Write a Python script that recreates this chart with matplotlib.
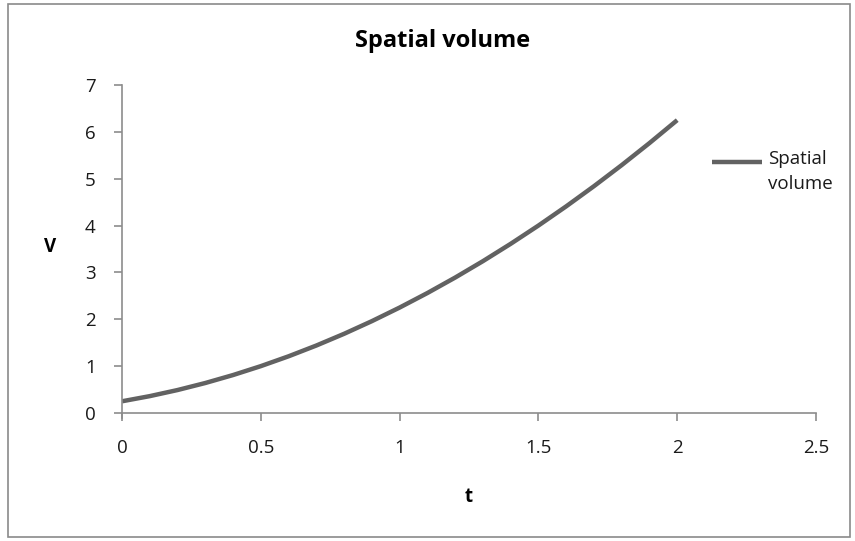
import matplotlib.pyplot as plt
from matplotlib.patches import Rectangle

# time and spatial volume samples
t = [0.0, 0.1, 0.2, 0.3, 0.4, 0.5, 0.6, 0.7, 0.8, 0.9, 1.0,
     1.1, 1.2, 1.3, 1.4, 1.5, 1.6, 1.7, 1.8, 1.9, 2.0]
volume = [0.25, 0.36, 0.49, 0.64, 0.81, 1.00, 1.21, 1.44, 1.69, 1.96, 2.25,
          2.56, 2.89, 3.24, 3.61, 4.00, 4.41, 4.84, 5.29, 5.76, 6.25]

xticks = [0, 0.5, 1, 1.5, 2, 2.5]
yticks = [0, 1, 2, 3, 4, 5, 6, 7]

plt.rcParams['font.family'] = ['Open Sans', 'DejaVu Sans']
axis_gray = '#8c8c8c'
line_gray = '#626262'

fig = plt.figure(figsize=(8.55, 5.41), dpi=100)
ax = fig.add_axes([0.1427, 0.2366, 0.8117, 0.6063])

ax.plot(t, volume, color=line_gray, linewidth=3.2, solid_capstyle='butt')

ax.set_xlim(0, 2.5)
ax.set_ylim(0, 7)
ax.set_xticks(xticks)
ax.set_xticklabels([f'{v:g}' for v in xticks])
ax.set_yticks(yticks)

for side in ['top', 'right']:
    ax.spines[side].set_visible(False)
for side in ['left', 'bottom']:
    ax.spines[side].set_color(axis_gray)
    ax.spines[side].set_linewidth(1.2)
ax.spines['left'].set_bounds(-0.1, 7)
ax.tick_params(axis='both', colors=axis_gray, labelcolor='#1a1a1a',
               labelsize=13.5, length=6, width=1.2)
ax.tick_params(axis='x', pad=13)
ax.tick_params(axis='y', pad=13)

fig.text(0.518, 0.925, 'Spatial volume', fontsize=17, fontweight='bold',
         ha='center', va='center')
ax.set_xlabel('t', fontsize=13.5, fontweight='bold', labelpad=21)
ax.set_ylabel('V', fontsize=13.5, fontweight='bold', rotation=0, va='center')
ax.yaxis.set_label_coords(-0.103, 0.505)

# legend, with the swatch level with the first text line
ax.plot([0.850, 0.922], [0.765, 0.765], transform=ax.transAxes, color=line_gray,
        linewidth=3.2, solid_capstyle='butt', clip_on=False)
ax.text(0.931, 0.802, 'Spatial\nvolume', transform=ax.transAxes, fontsize=13.5,
        color='#1a1a1a', ha='left', va='top', linespacing=1.5)

# outer chart border
fig.patches.append(Rectangle((0.009, 0.007), 0.985, 0.985, transform=fig.transFigure,
                             fill=False, edgecolor='#8a8a8a', linewidth=1.2))

plt.savefig('out.png', dpi=100)
